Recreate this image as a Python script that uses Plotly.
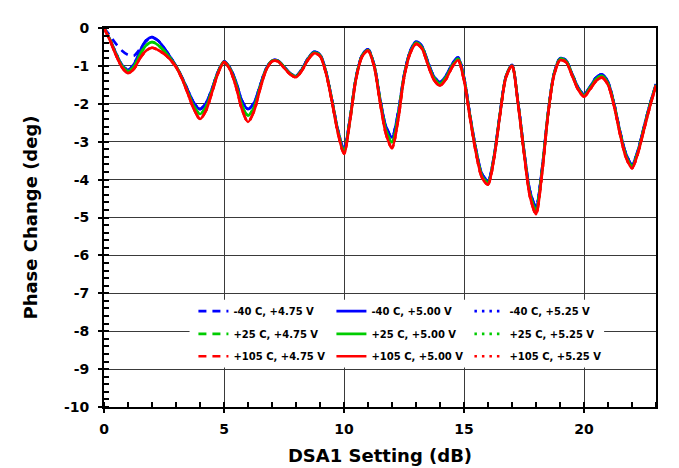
import plotly.graph_objects as go

# DSA1 attenuation setting (dB), 0.25 dB steps
dsa_setting_db = [
    0.0, 0.25, 0.5, 0.75, 1.0, 1.25, 1.5, 1.75, 2.0, 2.25, 2.5, 2.75,
    3.0, 3.25, 3.5, 3.75, 4.0, 4.25, 4.5, 4.75, 5.0, 5.25, 5.5, 5.75,
    6.0, 6.25, 6.5, 6.75, 7.0, 7.25, 7.5, 7.75, 8.0, 8.25, 8.5, 8.75,
    9.0, 9.25, 9.5, 9.75, 10.0, 10.25, 10.5, 10.75, 11.0, 11.25, 11.5, 11.75,
    12.0, 12.25, 12.5, 12.75, 13.0, 13.25, 13.5, 13.75, 14.0, 14.25, 14.5, 14.75,
    15.0, 15.25, 15.5, 15.75, 16.0, 16.25, 16.5, 16.75, 17.0, 17.25, 17.5, 17.75,
    18.0, 18.25, 18.5, 18.75, 19.0, 19.25, 19.5, 19.75, 20.0, 20.25, 20.5, 20.75,
    21.0, 21.25, 21.5, 21.75, 22.0, 22.25, 22.5, 22.75, 23.0,
]

# Phase change (deg) per condition
phase_m40_475 = [
    0, -0.20, -0.42, -0.60, -0.71, -0.73, -0.55, -0.35, -0.26, -0.33, -0.52, -0.75,
    -1.00, -1.30, -1.65, -1.98, -2.14, -1.98, -1.60, -1.15, -0.88, -1.05, -1.42, -1.92,
    -2.14, -1.98, -1.52, -1.08, -0.86, -0.86, -1.02, -1.19, -1.27, -1.08, -0.80, -0.63,
    -0.70, -1.15, -1.90, -2.70, -3.20, -2.38, -1.30, -0.72, -0.56, -0.95, -1.85, -2.60,
    -2.88, -2.25, -1.25, -0.62, -0.36, -0.48, -0.90, -1.28, -1.43, -1.26, -0.96, -0.77,
    -1.30, -2.30, -3.20, -3.85, -4.03, -3.38, -2.25, -1.27, -0.98, -1.95, -3.22, -4.30,
    -4.72, -3.72, -2.25, -1.20, -0.80, -0.85, -1.20, -1.56, -1.75, -1.55, -1.31, -1.22,
    -1.42, -1.98, -2.72, -3.32, -3.60, -3.22, -2.60, -2.00, -1.48,
]
phase_m40_500 = [
    0, -0.30, -0.66, -0.97, -1.10, -0.95, -0.60, -0.33, -0.24, -0.33, -0.52, -0.75,
    -1.00, -1.30, -1.65, -1.98, -2.14, -1.98, -1.60, -1.15, -0.88, -1.05, -1.42, -1.92,
    -2.14, -1.98, -1.52, -1.08, -0.86, -0.86, -1.02, -1.19, -1.27, -1.08, -0.80, -0.63,
    -0.70, -1.15, -1.90, -2.70, -3.20, -2.38, -1.30, -0.72, -0.56, -0.95, -1.85, -2.60,
    -2.88, -2.25, -1.25, -0.62, -0.36, -0.48, -0.90, -1.28, -1.43, -1.26, -0.96, -0.77,
    -1.30, -2.30, -3.20, -3.85, -4.03, -3.38, -2.25, -1.27, -0.98, -1.95, -3.22, -4.30,
    -4.72, -3.72, -2.25, -1.20, -0.80, -0.85, -1.20, -1.56, -1.75, -1.55, -1.31, -1.22,
    -1.42, -1.98, -2.72, -3.32, -3.60, -3.22, -2.60, -2.00, -1.48,
]
phase_m40_525 = [
    0, -0.30, -0.66, -0.97, -1.10, -0.95, -0.60, -0.33, -0.24, -0.33, -0.52, -0.75,
    -1.00, -1.30, -1.65, -1.98, -2.14, -1.98, -1.60, -1.15, -0.88, -1.05, -1.42, -1.92,
    -2.14, -1.98, -1.52, -1.08, -0.86, -0.86, -1.02, -1.19, -1.27, -1.08, -0.80, -0.63,
    -0.70, -1.15, -1.90, -2.70, -3.20, -2.38, -1.30, -0.72, -0.56, -0.95, -1.85, -2.60,
    -2.88, -2.25, -1.25, -0.62, -0.36, -0.48, -0.90, -1.28, -1.43, -1.26, -0.96, -0.77,
    -1.30, -2.30, -3.20, -3.85, -4.03, -3.38, -2.25, -1.27, -0.98, -1.95, -3.22, -4.30,
    -4.72, -3.72, -2.25, -1.20, -0.80, -0.85, -1.20, -1.56, -1.75, -1.55, -1.31, -1.22,
    -1.42, -1.98, -2.72, -3.32, -3.60, -3.22, -2.60, -2.00, -1.48,
]
phase_p25_475 = [
    0, -0.31, -0.69, -1.00, -1.14, -1.01, -0.70, -0.46, -0.37, -0.45, -0.60, -0.79,
    -1.01, -1.32, -1.70, -2.07, -2.27, -2.08, -1.65, -1.17, -0.89, -1.07, -1.48, -2.04,
    -2.31, -2.09, -1.57, -1.10, -0.87, -0.87, -1.03, -1.20, -1.28, -1.10, -0.82, -0.65,
    -0.72, -1.17, -1.92, -2.74, -3.26, -2.41, -1.32, -0.74, -0.58, -0.97, -1.90, -2.70,
    -3.02, -2.35, -1.28, -0.65, -0.39, -0.51, -0.94, -1.32, -1.47, -1.30, -1.00, -0.81,
    -1.34, -2.33, -3.25, -3.90, -4.08, -3.41, -2.27, -1.28, -0.99, -1.97, -3.26, -4.38,
    -4.81, -3.78, -2.27, -1.22, -0.82, -0.87, -1.22, -1.59, -1.78, -1.58, -1.35, -1.26,
    -1.46, -2.01, -2.76, -3.37, -3.65, -3.26, -2.64, -2.03, -1.50,
]
phase_p25_500 = [
    0, -0.31, -0.69, -1.00, -1.14, -1.01, -0.70, -0.46, -0.37, -0.45, -0.60, -0.79,
    -1.01, -1.32, -1.70, -2.07, -2.27, -2.08, -1.65, -1.17, -0.89, -1.07, -1.48, -2.04,
    -2.31, -2.09, -1.57, -1.10, -0.87, -0.87, -1.03, -1.20, -1.28, -1.10, -0.82, -0.65,
    -0.72, -1.17, -1.92, -2.74, -3.26, -2.41, -1.32, -0.74, -0.58, -0.97, -1.90, -2.70,
    -3.02, -2.35, -1.28, -0.65, -0.39, -0.51, -0.94, -1.32, -1.47, -1.30, -1.00, -0.81,
    -1.34, -2.33, -3.25, -3.90, -4.08, -3.41, -2.27, -1.28, -0.99, -1.97, -3.26, -4.38,
    -4.81, -3.78, -2.27, -1.22, -0.82, -0.87, -1.22, -1.59, -1.78, -1.58, -1.35, -1.26,
    -1.46, -2.01, -2.76, -3.37, -3.65, -3.26, -2.64, -2.03, -1.50,
]
phase_p25_525 = [
    0, -0.31, -0.69, -1.00, -1.14, -1.01, -0.70, -0.46, -0.37, -0.45, -0.60, -0.79,
    -1.01, -1.32, -1.70, -2.07, -2.27, -2.08, -1.65, -1.17, -0.89, -1.07, -1.48, -2.04,
    -2.31, -2.09, -1.57, -1.10, -0.87, -0.87, -1.03, -1.20, -1.28, -1.10, -0.82, -0.65,
    -0.72, -1.17, -1.92, -2.74, -3.26, -2.41, -1.32, -0.74, -0.58, -0.97, -1.90, -2.70,
    -3.02, -2.35, -1.28, -0.65, -0.39, -0.51, -0.94, -1.32, -1.47, -1.30, -1.00, -0.81,
    -1.34, -2.33, -3.25, -3.90, -4.08, -3.41, -2.27, -1.28, -0.99, -1.97, -3.26, -4.38,
    -4.81, -3.78, -2.27, -1.22, -0.82, -0.87, -1.22, -1.59, -1.78, -1.58, -1.35, -1.26,
    -1.46, -2.01, -2.76, -3.37, -3.65, -3.26, -2.64, -2.03, -1.50,
]
phase_p105_475 = [
    0, -0.33, -0.72, -1.04, -1.19, -1.08, -0.80, -0.60, -0.52, -0.58, -0.68, -0.83,
    -1.03, -1.34, -1.74, -2.15, -2.40, -2.18, -1.70, -1.20, -0.90, -1.10, -1.55, -2.15,
    -2.48, -2.20, -1.62, -1.12, -0.88, -0.88, -1.05, -1.22, -1.30, -1.12, -0.84, -0.67,
    -0.74, -1.20, -1.95, -2.78, -3.32, -2.45, -1.35, -0.76, -0.60, -1.00, -1.95, -2.80,
    -3.17, -2.45, -1.32, -0.68, -0.42, -0.55, -0.98, -1.37, -1.52, -1.35, -1.04, -0.85,
    -1.38, -2.37, -3.30, -3.95, -4.13, -3.45, -2.30, -1.30, -1.00, -2.00, -3.30, -4.45,
    -4.91, -3.85, -2.30, -1.25, -0.85, -0.90, -1.25, -1.62, -1.81, -1.62, -1.40, -1.31,
    -1.50, -2.05, -2.80, -3.42, -3.70, -3.30, -2.68, -2.07, -1.52,
]
phase_p105_500 = [
    0, -0.33, -0.72, -1.04, -1.19, -1.08, -0.80, -0.60, -0.52, -0.58, -0.68, -0.83,
    -1.03, -1.34, -1.74, -2.15, -2.40, -2.18, -1.70, -1.20, -0.90, -1.10, -1.55, -2.15,
    -2.48, -2.20, -1.62, -1.12, -0.88, -0.88, -1.05, -1.22, -1.30, -1.12, -0.84, -0.67,
    -0.74, -1.20, -1.95, -2.78, -3.32, -2.45, -1.35, -0.76, -0.60, -1.00, -1.95, -2.80,
    -3.17, -2.45, -1.32, -0.68, -0.42, -0.55, -0.98, -1.37, -1.52, -1.35, -1.04, -0.85,
    -1.38, -2.37, -3.30, -3.95, -4.13, -3.45, -2.30, -1.30, -1.00, -2.00, -3.30, -4.45,
    -4.91, -3.85, -2.30, -1.25, -0.85, -0.90, -1.25, -1.62, -1.81, -1.62, -1.40, -1.31,
    -1.50, -2.05, -2.80, -3.42, -3.70, -3.30, -2.68, -2.07, -1.52,
]
phase_p105_525 = [
    0, -0.33, -0.72, -1.04, -1.19, -1.08, -0.80, -0.60, -0.52, -0.58, -0.68, -0.83,
    -1.03, -1.34, -1.74, -2.15, -2.40, -2.18, -1.70, -1.20, -0.90, -1.10, -1.55, -2.15,
    -2.48, -2.20, -1.62, -1.12, -0.88, -0.88, -1.05, -1.22, -1.30, -1.12, -0.84, -0.67,
    -0.74, -1.20, -1.95, -2.78, -3.32, -2.45, -1.35, -0.76, -0.60, -1.00, -1.95, -2.80,
    -3.17, -2.45, -1.32, -0.68, -0.42, -0.55, -0.98, -1.37, -1.52, -1.35, -1.04, -0.85,
    -1.38, -2.37, -3.30, -3.95, -4.13, -3.45, -2.30, -1.30, -1.00, -2.00, -3.30, -4.45,
    -4.91, -3.85, -2.30, -1.25, -0.85, -0.90, -1.25, -1.62, -1.81, -1.62, -1.40, -1.31,
    -1.50, -2.05, -2.80, -3.42, -3.70, -3.30, -2.68, -2.07, -1.52,
]

series_names = [
    "-40 C, +4.75 V", "-40 C, +5.00 V", "-40 C, +5.25 V",
    "+25 C, +4.75 V", "+25 C, +5.00 V", "+25 C, +5.25 V",
    "+105 C, +4.75 V", "+105 C, +5.00 V", "+105 C, +5.25 V",
]
series_values = [
    phase_m40_475, phase_m40_500, phase_m40_525,
    phase_p25_475, phase_p25_500, phase_p25_525,
    phase_p105_475, phase_p105_500, phase_p105_525,
]

x_tick_vals = [0, 5, 10, 15, 20]
x_tick_labels = ["0", "5", "10", "15", "20"]
y_tick_vals = [0, -1, -2, -3, -4, -5, -6, -7, -8, -9, -10]
y_tick_labels = ["0", "-1", "-2", "-3", "-4", "-5", "-6", "-7", "-8", "-9", "-10"]

temp_colors = ["#0000FF", "#00CC00", "#FF0000"]
volt_dashes = ["8px,6px", "solid", "2.5px,5px"]
legend_ids = ["legend", "legend2", "legend3"]

FONT = "DejaVu Sans"

fig = go.Figure()
for i, (name, vals) in enumerate(zip(series_names, series_values)):
    t, v = divmod(i, 3)
    fig.add_trace(go.Scatter(
        x=dsa_setting_db, y=vals, mode="lines", name=name,
        line=dict(color=temp_colors[t], width=2.6, dash=volt_dashes[v], shape="spline", smoothing=0.8),
        legend=legend_ids[t], showlegend=True,
    ))

legend_common = dict(
    orientation="h", xanchor="left", yanchor="middle", x=0.162,
    bgcolor="rgba(0,0,0,0)", borderwidth=0, entrywidth=93, entrywidthmode="pixels",
    font=dict(family=FONT, size=10, color="black", weight="bold"),
    itemclick=False, itemdoubleclick=False,
)

# The page body adds an 8px offset, so margins are set 8px smaller at left/top.
fig.update_layout(
    width=679, height=468,
    margin=dict(l=96, r=31, t=12, b=69),
    paper_bgcolor="white", plot_bgcolor="white",
    font=dict(family=FONT, color="black"),
    legend=dict(legend_common, y=0.253),
    legend2=dict(legend_common, y=0.193),
    legend3=dict(legend_common, y=0.134),
    shapes=[dict(
        type="rect", xref="paper", yref="paper",
        x0=0.155, x1=0.906, y0=0.104, y1=0.283,
        fillcolor="white", line=dict(width=0), layer="above",
    )],
)

fig.update_xaxes(
    range=[0, 23], tickvals=x_tick_vals, ticktext=x_tick_labels,
    showgrid=True, gridcolor="#3a3a3a", gridwidth=1.2, zeroline=False,
    showline=True, linecolor="black", linewidth=2, mirror=True,
    ticks="outside", ticklen=4, tickwidth=2, tickcolor="black",
    ticklabelstandoff=4,
    minor=dict(dtick=1, ticks="inside", ticklen=5, tickwidth=1.5, tickcolor="black", showgrid=False),
    tickfont=dict(family=FONT, size=14, color="black", weight="bold"),
    title=dict(text="DSA1 Setting (dB)", standoff=14,
               font=dict(family=FONT, size=18, color="black", weight="bold")),
)
fig.update_yaxes(
    range=[-10, 0], tickvals=y_tick_vals, ticktext=y_tick_labels,
    showgrid=True, gridcolor="#3a3a3a", gridwidth=1.2, zeroline=False,
    showline=True, linecolor="black", linewidth=2, mirror=True,
    ticks="outside", ticklen=4, tickwidth=2, tickcolor="black",
    ticklabelstandoff=6,
    minor=dict(dtick=0.2, ticks="inside", ticklen=5, tickwidth=1.5, tickcolor="black", showgrid=False),
    tickfont=dict(family=FONT, size=14, color="black", weight="bold"),
    title=dict(text="Phase Change (deg)", standoff=22,
               font=dict(family=FONT, size=18, color="black", weight="bold")),
)

fig.write_html("out.html")
